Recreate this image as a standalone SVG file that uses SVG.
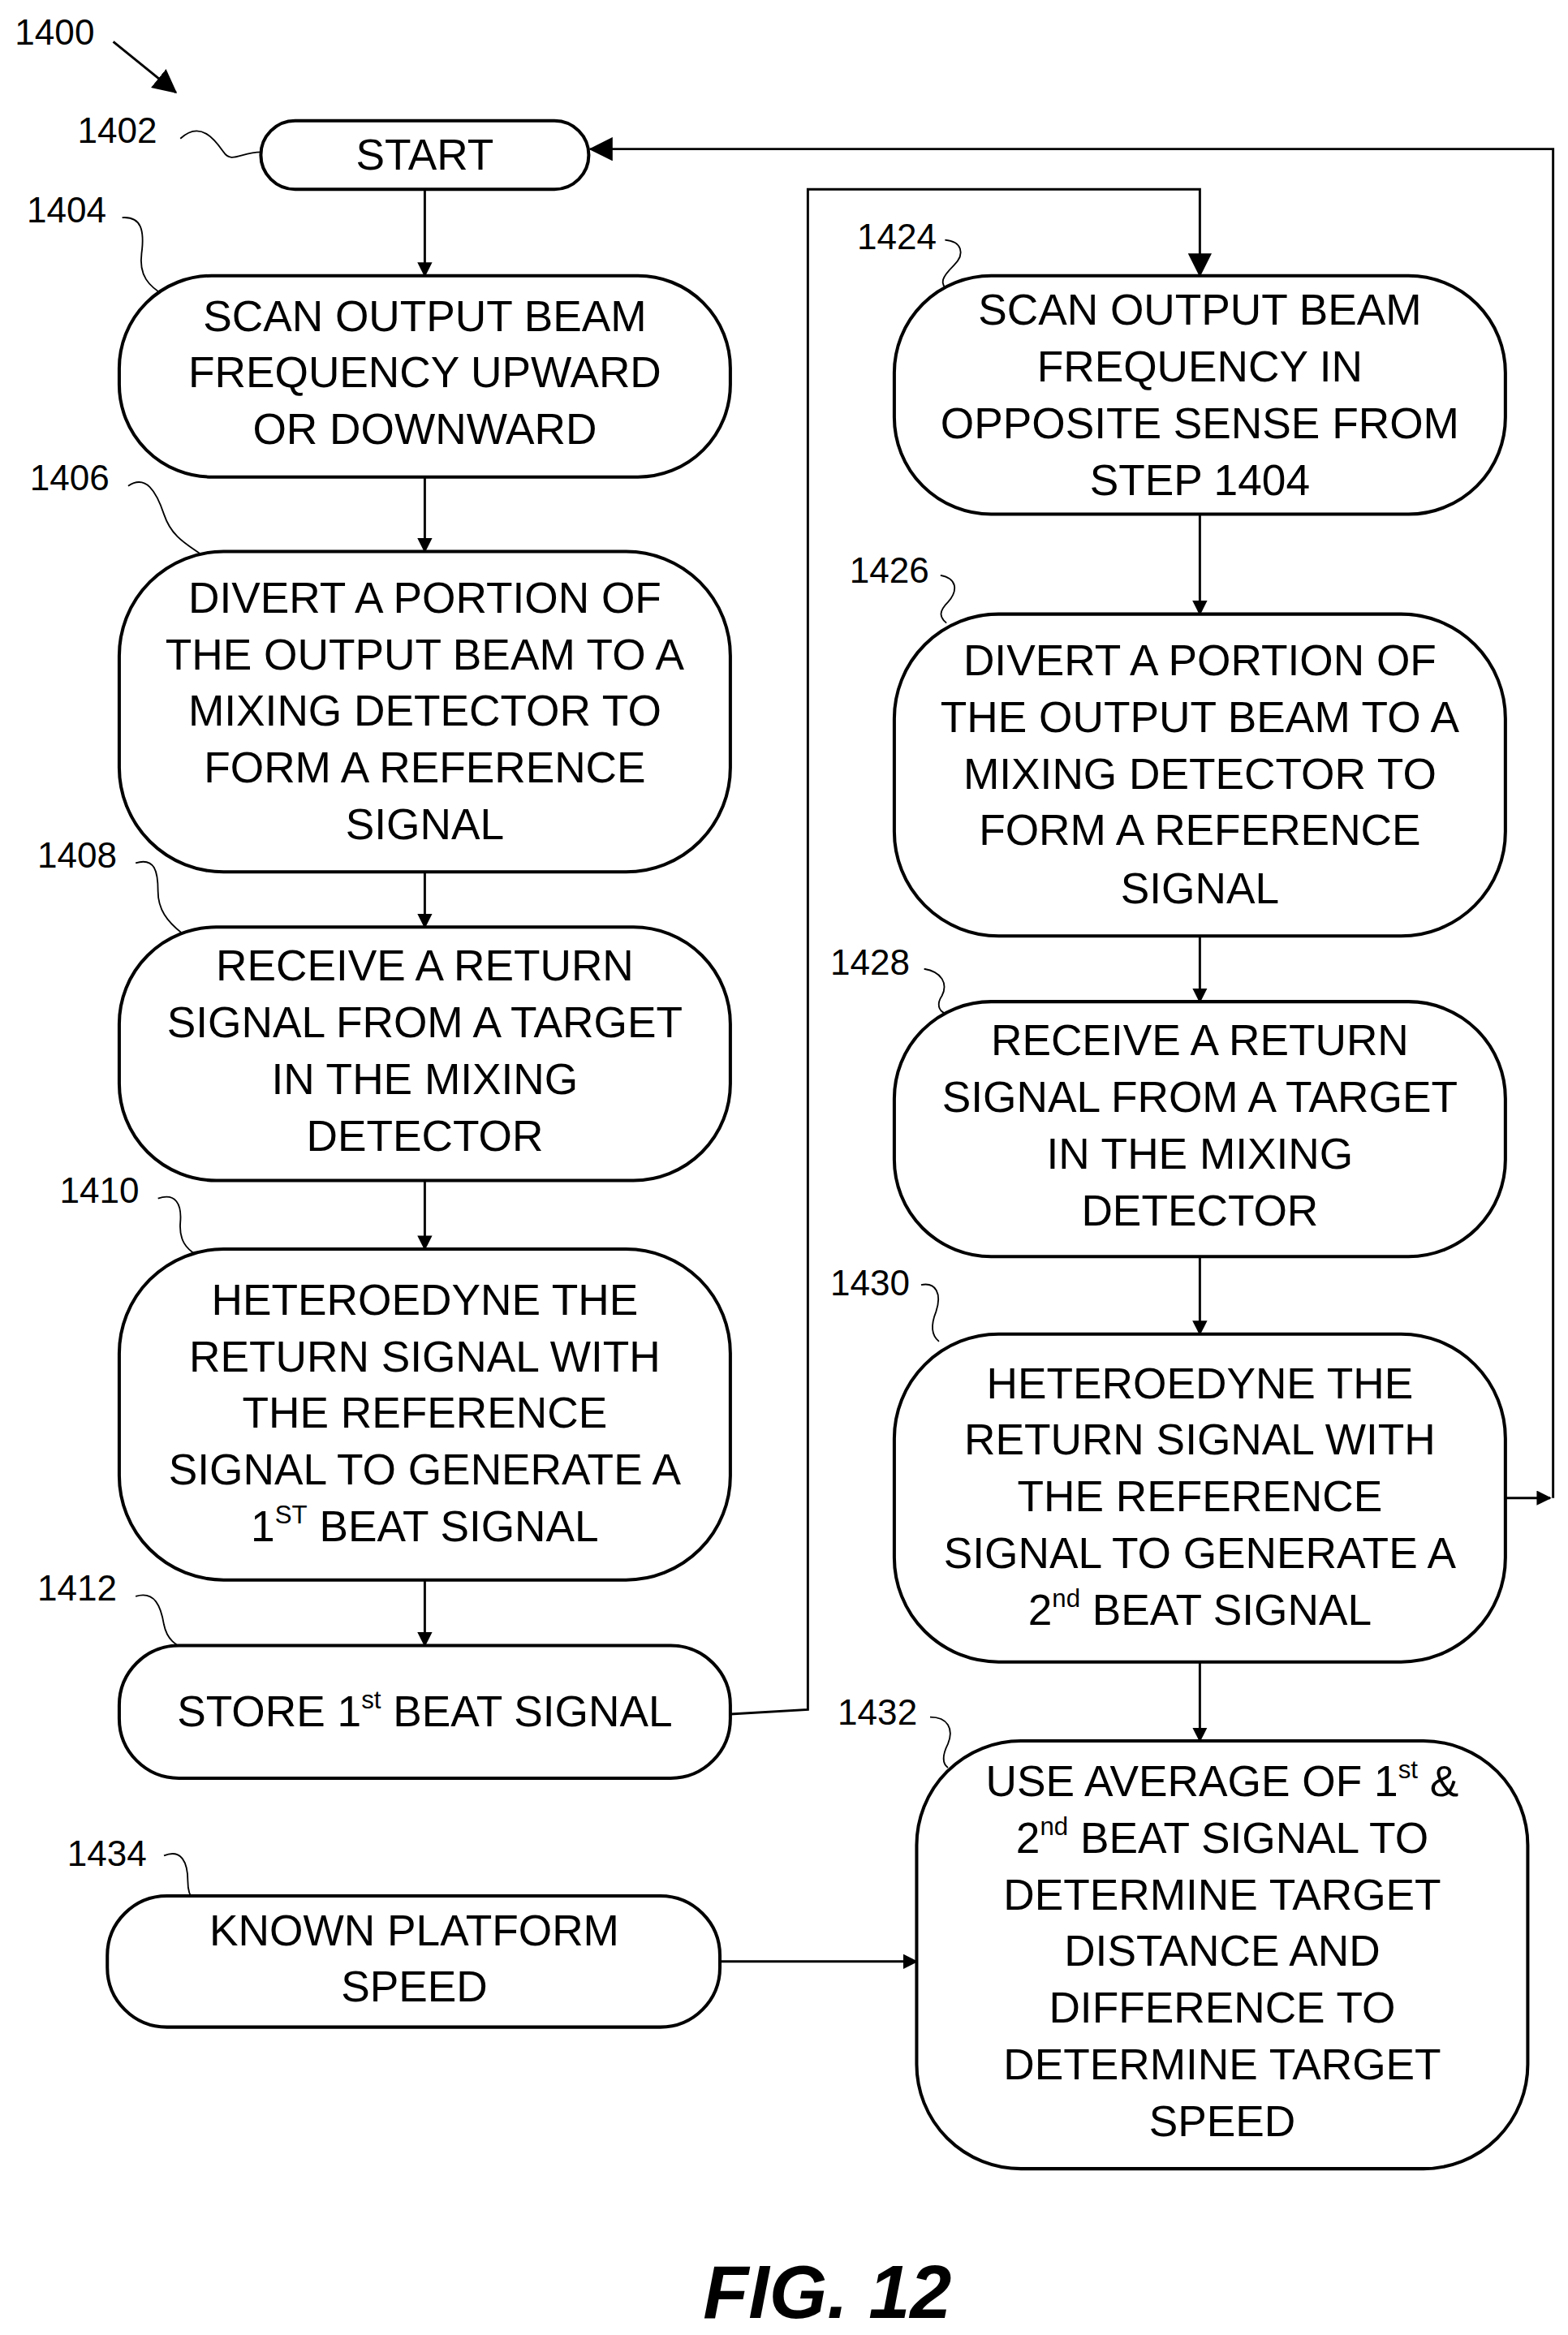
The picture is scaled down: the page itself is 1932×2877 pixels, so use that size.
<svg xmlns="http://www.w3.org/2000/svg" width="1932" height="2877" viewBox="0 0 1932 2877">
<style>
.b{fill:#fff;stroke:#000;stroke-width:2.2}
.t{font-family:"Liberation Sans",Arial,sans-serif;font-size:29px;text-anchor:middle;fill:#000}
.l{font-family:"Liberation Sans",Arial,sans-serif;font-size:24px;fill:#000}
.c{fill:none;stroke:#000;stroke-width:1.6}
.s{fill:none;stroke:#000;stroke-width:1}
.sup{font-size:17px}
</style>
<defs>
<marker id="a" markerWidth="10" markerHeight="10" refX="9" refY="5" orient="auto" markerUnits="userSpaceOnUse"><path d="M0,0 L10,5 L0,10 z" fill="#000"/></marker>
<marker id="A" markerWidth="16" markerHeight="16" refX="15" refY="8" orient="auto" markerUnits="userSpaceOnUse"><path d="M0,0 L16,8 L0,16 z" fill="#000"/></marker>
</defs>
<rect width="1932" height="2877" fill="#fff"/>
<g transform="scale(1.8365)">
<g id="labels">
<text class="l" x="10" y="30">1400</text>
<path class="c" d="M76,28 L118,62" marker-end="url(#A)"/>
<text class="l" x="52" y="96">1402</text><path class="s" d="M121,93 C135,80 145,95 150,102 C155,110 162,102 175,102"/>
<text class="l" x="18" y="149">1404</text><path class="s" d="M82,146 C95,145 97,155 95,170 C93,185 100,192 110,198"/>
<text class="l" x="20" y="329">1406</text><path class="s" d="M86,326 C98,318 105,330 110,345 C115,360 125,365 135,372"/>
<text class="l" x="25" y="582">1408</text><path class="s" d="M91,579 C104,575 106,585 106,598 C106,610 112,618 122,626"/>
<text class="l" x="40" y="807">1410</text><path class="s" d="M106,804 C118,800 122,808 121,820 C120,832 125,838 132,842"/>
<text class="l" x="25" y="1074">1412</text><path class="s" d="M91,1071 C104,1067 108,1078 110,1090 C112,1100 118,1104 125,1107"/>
<text class="l" x="45" y="1252">1434</text><path class="s" d="M110,1245 C122,1240 126,1250 126,1262 C126,1270 128,1273 130,1275"/>
<text class="l" x="575" y="167">1424</text><path class="s" d="M634,161 C645,162 648,170 640,178 C632,186 630,190 636,195"/>
<text class="l" x="570" y="391">1426</text><path class="s" d="M631,386 C642,388 643,396 636,404 C630,410 630,414 635,418"/>
<text class="l" x="557" y="654">1428</text><path class="s" d="M620,650 C632,652 636,660 632,668 C628,674 630,678 634,680"/>
<text class="l" x="557" y="869">1430</text><path class="s" d="M618,862 C628,860 632,868 628,880 C624,890 625,896 630,900"/>
<text class="l" x="562" y="1157">1432</text><path class="s" d="M624,1152 C636,1152 640,1160 636,1170 C632,1178 632,1183 636,1186"/>
</g>
<g id="connectors">
<path class="c" d="M285,127 V185" marker-end="url(#a)"/>
<path class="c" d="M285,320 V370" marker-end="url(#a)"/>
<path class="c" d="M285,585 V622" marker-end="url(#a)"/>
<path class="c" d="M285,792 V838" marker-end="url(#a)"/>
<path class="c" d="M285,1060 V1104" marker-end="url(#a)"/>
<path class="c" d="M490,1150 L542,1147 V127 H805 V185" marker-end="url(#A)"/>
<path class="c" d="M805,345 V412" marker-end="url(#a)"/>
<path class="c" d="M805,628 V672" marker-end="url(#a)"/>
<path class="c" d="M805,843 V895" marker-end="url(#a)"/>
<path class="c" d="M805,1115 V1168" marker-end="url(#a)"/>
<path class="c" d="M1010,1005 H1040" marker-end="url(#a)"/>
<path class="c" d="M1042,1005 V100 H396" marker-end="url(#A)"/>
<path class="c" d="M483,1316 H615" marker-end="url(#a)"/>
</g>
<g id="n1402"><rect class="b" x="175" y="81" width="220" height="46" rx="23"/><text class="t" x="285" y="114">START</text></g>
<g id="n1404"><rect class="b" x="80" y="185" width="410" height="135" rx="62"/><text class="t" x="285" y="222">SCAN OUTPUT BEAM</text><text class="t" x="285" y="260">FREQUENCY UPWARD</text><text class="t" x="285" y="298">OR DOWNWARD</text></g>
<g id="n1406"><rect class="b" x="80" y="370" width="410" height="215" rx="70"/><text class="t" x="285" y="411">DIVERT A PORTION OF</text><text class="t" x="285" y="449">THE OUTPUT BEAM TO A</text><text class="t" x="285" y="487">MIXING DETECTOR TO</text><text class="t" x="285" y="525">FORM A REFERENCE</text><text class="t" x="285" y="563">SIGNAL</text></g>
<g id="n1408"><rect class="b" x="80" y="622" width="410" height="170" rx="65"/><text class="t" x="285" y="658">RECEIVE A RETURN</text><text class="t" x="285" y="696">SIGNAL FROM A TARGET</text><text class="t" x="285" y="734">IN THE MIXING</text><text class="t" x="285" y="772">DETECTOR</text></g>
<g id="n1410"><rect class="b" x="80" y="838" width="410" height="222" rx="70"/><text class="t" x="285" y="882">HETEROEDYNE THE</text><text class="t" x="285" y="920">RETURN SIGNAL WITH</text><text class="t" x="285" y="958">THE REFERENCE</text><text class="t" x="285" y="996">SIGNAL TO GENERATE A</text><text class="t" x="285" y="1034">1<tspan class="sup" dy="-12">ST</tspan><tspan dy="12"> BEAT SIGNAL</tspan></text></g>
<g id="n1412"><rect class="b" x="80" y="1104" width="410" height="89" rx="40"/><text class="t" x="285" y="1158">STORE 1<tspan class="sup" dy="-12">st</tspan><tspan dy="12"> BEAT SIGNAL</tspan></text></g>
<g id="n1434"><rect class="b" x="72" y="1272" width="411" height="88" rx="40"/><text class="t" x="278" y="1305">KNOWN PLATFORM</text><text class="t" x="278" y="1343">SPEED</text></g>
<g id="n1424"><rect class="b" x="600" y="185" width="410" height="160" rx="65"/><text class="t" x="805" y="218">SCAN OUTPUT BEAM</text><text class="t" x="805" y="256">FREQUENCY IN</text><text class="t" x="805" y="294">OPPOSITE SENSE FROM</text><text class="t" x="805" y="332">STEP 1404</text></g>
<g id="n1426"><rect class="b" x="600" y="412" width="410" height="216" rx="70"/><text class="t" x="805" y="453">DIVERT A PORTION OF</text><text class="t" x="805" y="491">THE OUTPUT BEAM TO A</text><text class="t" x="805" y="529">MIXING DETECTOR TO</text><text class="t" x="805" y="567">FORM A REFERENCE</text><text class="t" x="805" y="606">SIGNAL</text></g>
<g id="n1428"><rect class="b" x="600" y="672" width="410" height="171" rx="65"/><text class="t" x="805" y="708">RECEIVE A RETURN</text><text class="t" x="805" y="746">SIGNAL FROM A TARGET</text><text class="t" x="805" y="784">IN THE MIXING</text><text class="t" x="805" y="822">DETECTOR</text></g>
<g id="n1430"><rect class="b" x="600" y="895" width="410" height="220" rx="70"/><text class="t" x="805" y="938">HETEROEDYNE THE</text><text class="t" x="805" y="976">RETURN SIGNAL WITH</text><text class="t" x="805" y="1014">THE REFERENCE</text><text class="t" x="805" y="1052">SIGNAL TO GENERATE A</text><text class="t" x="805" y="1090">2<tspan class="sup" dy="-12">nd</tspan><tspan dy="12">  BEAT SIGNAL</tspan></text></g>
<g id="n1432"><rect class="b" x="615" y="1168" width="410" height="287" rx="70"/><text class="t" x="820" y="1205">USE AVERAGE OF 1<tspan class="sup" dy="-12">st</tspan><tspan dy="12"> &amp;</tspan></text><text class="t" x="820" y="1243">2<tspan class="sup" dy="-12">nd</tspan><tspan dy="12"> BEAT SIGNAL TO</tspan></text><text class="t" x="820" y="1281">DETERMINE TARGET</text><text class="t" x="820" y="1319">DISTANCE AND</text><text class="t" x="820" y="1357">DIFFERENCE TO</text><text class="t" x="820" y="1395">DETERMINE TARGET</text><text class="t" x="820" y="1433">SPEED</text></g>
<text x="555" y="1555" font-family="Liberation Sans,Arial,sans-serif" font-size="50" font-weight="bold" font-style="italic" text-anchor="middle">FIG. 12</text>
</g>
</svg>
